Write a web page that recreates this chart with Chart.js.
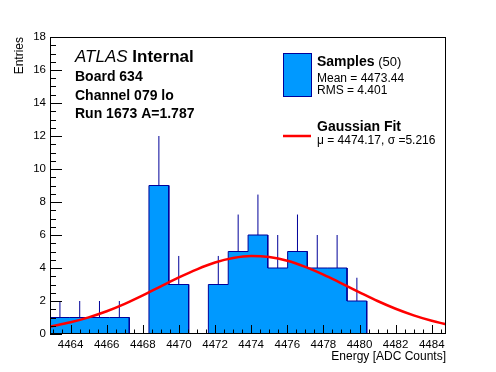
<!DOCTYPE html>
<html>
<head>
<meta charset="utf-8">
<script src="https://cdn.jsdelivr.net/npm/chart.js@4.4.1/dist/chart.umd.min.js"></script>
<style>
    html, body { margin: 0; padding: 0; background: #fff; }
    #wrap { width: 496px; height: 372px; }
</style>
</head>
<body>
<div id="wrap"><canvas id="chart" width="496" height="372"></canvas></div>
<script>
// histogram bins (20 bins over the axis range)
var binEdges = [4462.86, 4463.96, 4465.05, 4466.15, 4467.25, 4468.34, 4469.44, 4470.54,
    4471.63, 4472.73, 4473.83, 4474.92, 4476.02, 4477.11, 4478.21, 4479.31, 4480.40,
    4481.50, 4482.60, 4483.69, 4484.79];
var counts = [1, 1, 1, 1, 0, 9, 3, 0, 3, 5, 6, 4, 5, 4, 4, 2, 0, 0, 0, 0];
// top of the error bar for each bin (null = no bar)
var errTops = [2, 2, 2, 2, null, 12, 4.73, null, 4.73, 7.24, 8.45, 6, 7.24, 6, 6, 3.41,
    null, null, null, null];

// gaussian fit curve
var fitX = [4462.86, 4464, 4465, 4466, 4467, 4468, 4469, 4470, 4471, 4472, 4473, 4474,
    4475, 4476, 4477, 4478, 4479, 4480, 4481, 4482, 4483, 4484, 4484.79];
var fitY = [0.44, 0.71, 1.01, 1.38, 1.83, 2.34, 2.89, 3.43, 3.92, 4.33, 4.60, 4.72,
    4.66, 4.44, 4.07, 3.60, 3.07, 2.53, 2.00, 1.53, 1.13, 0.80, 0.59];

var xTickLabels = [4464, 4466, 4468, 4470, 4472, 4474, 4476, 4478, 4480, 4482, 4484];
var yTickLabels = [0, 2, 4, 6, 8, 10, 12, 14, 16, 18];

var FONT = '"Liberation Sans", Arial, Helvetica, sans-serif';
var fillBlue = '#0099ff';
var lineBlue = '#000099';

// staircase: one point per bin low edge, plus the last upper edge
var histPts = [{ x: binEdges[0], y: counts[0] }];
for (var i = 0; i < counts.length; i++) {
    histPts.push({ x: binEdges[i + 1], y: counts[i] });
    if (i + 1 < counts.length) histPts.push({ x: binEdges[i + 1], y: counts[i + 1] });
}

var errPts = [];
for (var j = 0; j < counts.length; j++) {
    if (errTops[j] === null) continue;
    var c = (binEdges[j] + binEdges[j + 1]) / 2;
    errPts.push({ x: c, y: counts[j] });
    errPts.push({ x: c, y: errTops[j] });
    errPts.push({ x: c, y: null });
}

var fitPts = fitX.map(function (x, k) { return { x: x, y: fitY[k] }; });

// frame, inward ticks and the text boxes, ROOT style
var rootDecor = {
    id: 'rootDecor',
    afterDatasetsDraw: function (chart) {
        var ctx = chart.ctx;
        var a = chart.chartArea;
        var xs = chart.scales.x, ys = chart.scales.y;
        ctx.save();
        ctx.strokeStyle = '#000';
        ctx.lineWidth = 1;
        ctx.beginPath();
        var v, px, len;
        for (v = 0; v <= 18.001; v += 0.5) {
            px = Math.round(ys.getPixelForValue(v)) + 0.5;
            len = (v % 2 === 0) ? 12 : 6;
            ctx.moveTo(a.left, px);
            ctx.lineTo(a.left + len, px);
        }
        for (v = 4463; v <= 4484.5; v += 0.5) {
            px = Math.round(xs.getPixelForValue(v)) + 0.5;
            len = (v % 2 === 0) ? 9 : 4.5;
            ctx.moveTo(px, a.bottom);
            ctx.lineTo(px, a.bottom - len);
        }
        ctx.stroke();
        ctx.strokeRect(Math.round(a.left) + 0.5, Math.round(a.top) + 0.5,
            Math.round(a.right - a.left) - 1, Math.round(a.bottom - a.top) - 1);

        ctx.fillStyle = '#000';
        ctx.textBaseline = 'middle';
        ctx.textAlign = 'left';
        ctx.font = 'italic 17px ' + FONT;
        ctx.fillText('ATLAS', 75, 57);
        var w = ctx.measureText('ATLAS ').width;
        ctx.font = 'bold 17px ' + FONT;
        ctx.fillText('Internal', 75 + w, 57);
        ctx.font = 'bold 14px ' + FONT;
        ctx.fillText('Board 634', 75, 77);
        ctx.fillText('Channel 079 lo', 75, 96);
        ctx.fillText('Run 1673 A=1.787', 75, 114);

        // legend
        ctx.fillStyle = fillBlue;
        ctx.fillRect(283, 53, 28, 44);
        ctx.strokeStyle = lineBlue;
        ctx.strokeRect(283.5, 53.5, 28, 43);
        ctx.strokeStyle = '#ff0000';
        ctx.lineWidth = 2.5;
        ctx.beginPath();
        ctx.moveTo(283, 136);
        ctx.lineTo(311, 136);
        ctx.stroke();

        ctx.fillStyle = '#000';
        ctx.font = 'bold 14px ' + FONT;
        ctx.fillText('Samples', 317, 62);
        w = ctx.measureText('Samples').width;
        ctx.font = '13px ' + FONT;
        ctx.fillText(' (50)', 317 + w, 62);
        ctx.font = '12px ' + FONT;
        ctx.fillText('Mean = 4473.44', 317, 78.5);
        ctx.fillText('RMS = 4.401', 317, 90.5);
        ctx.font = 'bold 14px ' + FONT;
        ctx.fillText('Gaussian Fit', 317, 127);
        ctx.font = '12px ' + FONT;
        ctx.fillText('\u03bc = 4474.17, \u03c3 =5.216', 317, 141);
        ctx.restore();
    }
};

new Chart(document.getElementById('chart').getContext('2d'), {
    type: 'line',
    data: {
        datasets: [{
            label: 'Gaussian Fit',
            data: fitPts,
            borderColor: '#ff0000',
            borderWidth: 2.5,
            pointRadius: 0,
            cubicInterpolationMode: 'monotone',
            fill: false,
            order: 0
        }, {
            label: 'errors',
            data: errPts,
            borderColor: lineBlue,
            borderWidth: 1,
            pointRadius: 0,
            fill: false,
            spanGaps: false,
            order: 1
        }, {
            label: 'Samples',
            data: histPts,
            borderColor: lineBlue,
            backgroundColor: fillBlue,
            borderWidth: 1,
            pointRadius: 0,
            tension: 0,
            fill: 'origin',
            order: 2
        }]
    },
    options: {
        responsive: false,
        animation: false,
        devicePixelRatio: 1,
        layout: { padding: { top: 37, right: 50, left: 0, bottom: 0 } },
        plugins: { legend: { display: false }, tooltip: { enabled: false } },
        scales: {
            x: {
                type: 'linear',
                min: binEdges[0],
                max: binEdges[binEdges.length - 1],
                afterBuildTicks: function (s) {
                    s.ticks = xTickLabels.map(function (v) { return { value: v }; });
                },
                afterFit: function (s) { s.height = 38; },
                grid: { display: false, drawTicks: false },
                border: { display: false },
                ticks: {
                    color: '#000',
                    padding: 4,
                    maxRotation: 0,
                    autoSkip: false,
                    font: { family: FONT, size: 11.5 },
                    callback: function (v) { return String(v); }
                },
                title: {
                    display: true,
                    text: 'Energy [ADC Counts]',
                    align: 'end',
                    color: '#000',
                    font: { family: FONT, size: 12 },
                    padding: { top: 0, bottom: 8 }
                }
            },
            y: {
                min: 0,
                max: 18,
                afterBuildTicks: function (s) {
                    s.ticks = yTickLabels.map(function (v) { return { value: v }; });
                },
                afterFit: function (s) { s.width = 50; },
                grid: { display: false, drawTicks: false },
                border: { display: false },
                ticks: {
                    color: '#000',
                    padding: 4,
                    font: { family: FONT, size: 11.5 },
                    callback: function (v) { return String(v); }
                },
                title: {
                    display: true,
                    text: 'Entries',
                    align: 'end',
                    color: '#000',
                    font: { family: FONT, size: 12 },
                    padding: { top: 12, bottom: 0 }
                }
            }
        }
    },
    plugins: [rootDecor]
});
</script>
</body>
</html>
